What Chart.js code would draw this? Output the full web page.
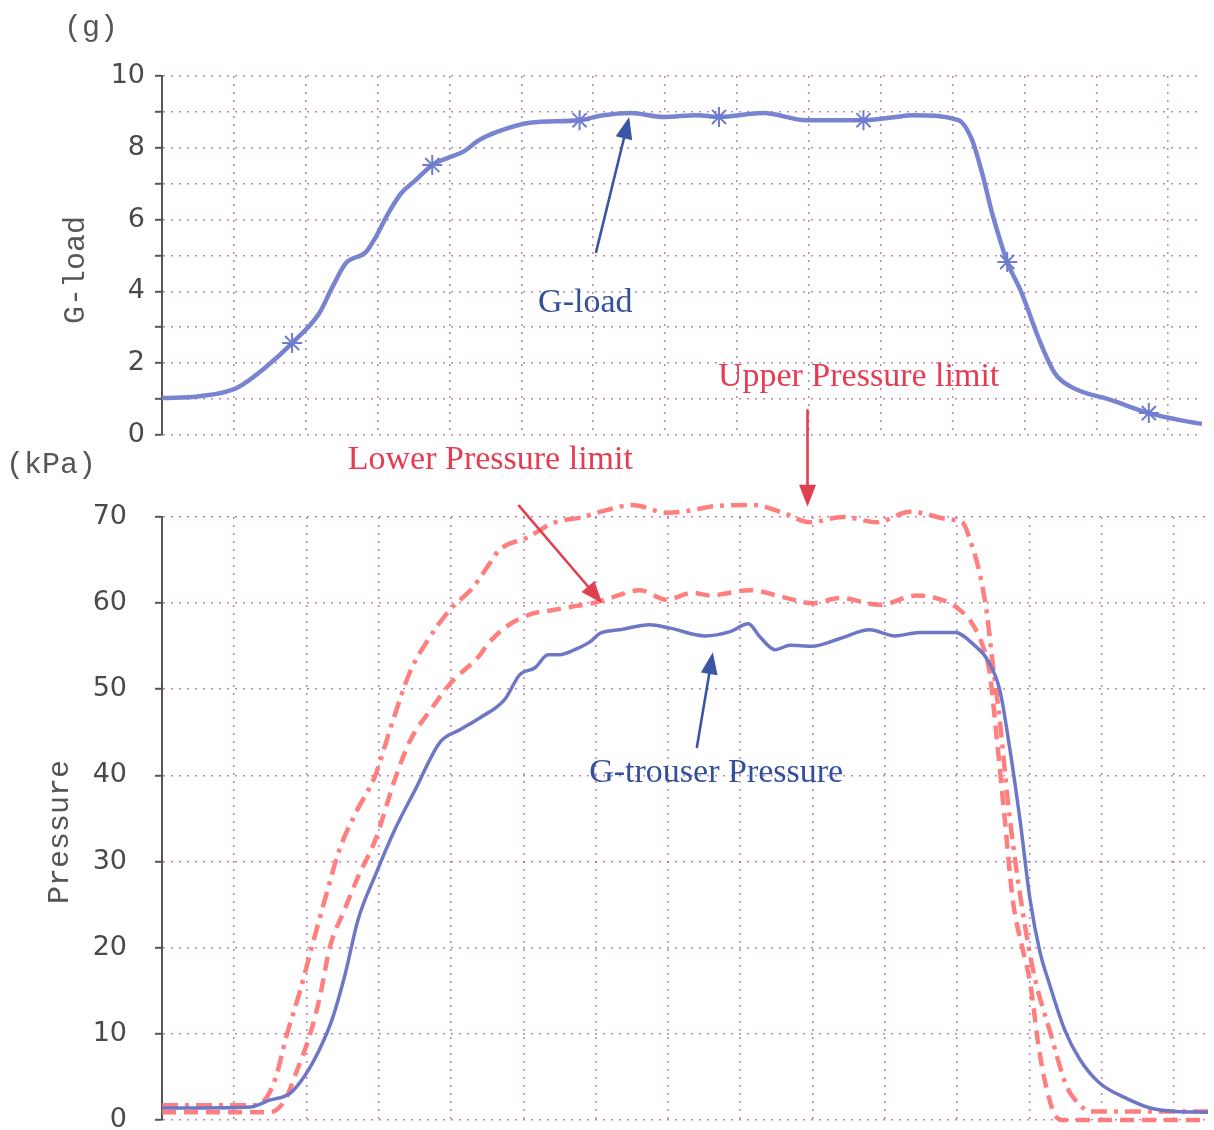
<!DOCTYPE html>
<html>
<head>
<meta charset="utf-8">
<script src="https://cdn.jsdelivr.net/npm/chart.js@4.4.1/dist/chart.umd.min.js"></script>
<style>
  html, body { margin: 0; padding: 0; background: #fff; overflow: hidden; }
  #wrap { position: relative; width: 1214px; height: 1130px; overflow: hidden; background: #fff; }
  canvas { position: absolute; left: 0; }
</style>
</head>
<body>
<div id="wrap">
  <canvas id="gChart" width="1214" height="450" style="top:0"></canvas>
  <canvas id="pChart" width="1214" height="800" style="top:340px"></canvas>
</div>
<script>
// ---- time axis (one grid step per unit) ----
const timeMax = 14.47;

// ---- G-load trace ----
const gTime = [0, 0.53, 1.04, 1.45, 1.81, 2.19, 2.37, 2.56, 2.84, 2.97, 3.15, 3.33, 3.53, 3.76, 3.98, 4.20, 4.40, 4.67, 5.12, 5.81, 6.12, 6.52, 6.98, 7.44, 7.75, 8.37, 8.96, 9.76, 10.21, 10.44, 11.08, 11.27, 11.41, 11.55, 11.69, 11.76, 11.96, 12.19, 12.42, 12.65, 13.21, 13.73, 14.40, 14.47];
const gLoad = [1.03, 1.08, 1.31, 1.90, 2.56, 3.40, 4.12, 4.79, 5.10, 5.50, 6.18, 6.74, 7.10, 7.52, 7.72, 7.90, 8.20, 8.45, 8.70, 8.77, 8.90, 8.97, 8.86, 8.91, 8.86, 8.97, 8.77, 8.77, 8.86, 8.91, 8.77, 8.22, 7.30, 6.18, 5.24, 4.82, 3.96, 2.73, 1.73, 1.34, 0.97, 0.61, 0.33, 0.31];
// sample instants marked with an asterisk
const gMarkTimes = [1.81, 3.76, 5.81, 7.75, 9.76, 11.76, 13.73];

// ---- G-trouser pressure (kPa) ----
const suitTime = [0, 0.53, 1.22, 1.49, 1.77, 1.98, 2.19, 2.35, 2.53, 2.71, 2.95, 3.22, 3.50, 3.85, 4.12, 4.40, 4.74, 4.95, 5.16, 5.34, 5.50, 5.71, 5.92, 6.06, 6.33, 6.75, 7.03, 7.51, 7.86, 8.11, 8.27, 8.48, 8.69, 8.99, 9.38, 9.79, 10.14, 10.48, 10.97, 11.24, 11.42, 11.59, 11.73, 11.87, 12.01, 12.14, 12.28, 12.49, 12.70, 12.97, 13.32, 13.67, 14.01, 14.47];
const suitPressure = [1.4, 1.4, 1.5, 2.3, 3.1, 5.2, 8.4, 11.6, 16.8, 23.2, 28.4, 33.7, 38.3, 43.9, 45.3, 46.7, 48.8, 51.7, 52.5, 54.0, 54.0, 54.6, 55.5, 56.5, 56.9, 57.5, 57.1, 56.2, 56.7, 57.6, 56.1, 54.6, 55.1, 55.0, 55.9, 56.9, 56.2, 56.6, 56.6, 55.1, 53.4, 49.9, 43.0, 34.8, 25.5, 19.7, 15.7, 10.4, 7.0, 4.3, 2.6, 1.4, 1.0, 0.9];

// ---- Upper pressure limit (kPa) ----
const upperTime = [0, 1.22, 1.38, 1.56, 1.73, 1.91, 2.07, 2.25, 2.46, 2.67, 2.95, 3.18, 3.43, 3.67, 3.98, 4.30, 4.50, 4.67, 5.05, 5.41, 5.82, 6.15, 6.51, 6.98, 7.34, 7.58, 8.17, 8.59, 8.96, 9.42, 9.89, 10.35, 10.90, 11.08, 11.18, 11.31, 11.41, 11.49, 11.59, 11.70, 11.84, 12.05, 12.28, 12.52, 12.67, 12.84, 14.47];
const upperLimit = [1.7, 1.7, 2.0, 4.6, 10.0, 15.0, 20.0, 25.5, 31.5, 35.5, 40.0, 46.0, 52.0, 55.6, 59.2, 61.8, 64.2, 66.2, 67.6, 69.3, 70.0, 70.8, 71.4, 70.5, 70.8, 71.2, 71.4, 70.5, 69.4, 70.0, 69.4, 70.6, 69.7, 69.3, 67.3, 63.5, 58.9, 53.1, 46.4, 37.1, 27.9, 17.4, 10.4, 3.8, 2.0, 1.0, 1.0];

// ---- Lower pressure limit (kPa) ----
const lowerTime = [0, 1.49, 1.70, 1.87, 2.05, 2.19, 2.32, 2.53, 2.71, 2.95, 3.22, 3.43, 3.75, 3.98, 4.40, 4.50, 4.77, 5.13, 5.41, 5.68, 5.96, 6.24, 6.61, 6.98, 7.34, 7.58, 8.13, 8.59, 9.00, 9.38, 9.93, 10.44, 10.90, 11.08, 11.18, 11.36, 11.45, 11.55, 11.66, 11.77, 11.91, 12.01, 12.14, 12.32, 12.45, 14.47];
const lowerLimit = [0.9, 0.9, 2.3, 5.8, 10.0, 14.5, 20.0, 24.5, 28.2, 32.5, 39.5, 44.0, 48.0, 50.6, 54.0, 55.2, 57.3, 58.8, 59.2, 59.6, 60.0, 60.7, 61.5, 60.4, 61.2, 60.9, 61.5, 60.7, 60.0, 60.6, 59.8, 60.9, 60.0, 58.9, 58.0, 54.9, 51.9, 44.1, 34.8, 25.5, 19.7, 15.9, 7.8, 1.2, 0, 0];

// ---- axis ticks ----
const gTicks = [0, 2, 4, 6, 8, 10];
const pTicks = [0, 10, 20, 30, 40, 50, 60, 70];

// ---- callouts (data coordinates of each panel) ----
const gCallouts = [
  { text: 'G-load', at: [5.89, 3.43], align: 'center', color: '#34509c',
    from: [6.04, 5.10], to: [6.50, 8.86], arrowColor: '#3a55a5' }
];
const pCallouts = [
  { text: 'Upper Pressure limit', at: [7.69, 85.2], align: 'left', color: '#e63c52',
    from: [8.93, 82.4], to: [8.93, 71.2], arrowColor: '#e0404f' },
  { text: 'Lower Pressure limit', at: [2.57, 75.6], align: 'left', color: '#e63c52',
    from: [4.94, 71.3], to: [6.09, 60.0], arrowColor: '#e0404f' },
  { text: 'G-trouser Pressure', at: [5.91, 39.2], align: 'left', color: '#34509c',
    from: [7.40, 43.3], to: [7.62, 54.3], arrowColor: '#3a55a5' }
];

const pts = (xs, ys) => xs.map((x, i) => ({ x, y: ys[i] }));
const gMarks = gMarkTimes.map(t => ({ x: t, y: gLoad[gTime.indexOf(t)] }));

const GRID = 'rgba(170,105,160,0.8)';
const AXIS = '#555';
const MONO = '"Liberation Mono", "DejaVu Sans Mono", monospace';

// callouts, unit labels and rotated axis titles
const notesPlugin = {
  id: 'notes',
  afterDatasetsDraw(chart, args, opts) {
    const { ctx, scales: { x, y } } = chart;
    ctx.save();
    (opts.callouts || []).forEach(c => {
      const x1 = x.getPixelForValue(c.from[0]), y1 = y.getPixelForValue(c.from[1]);
      const x2 = x.getPixelForValue(c.to[0]), y2 = y.getPixelForValue(c.to[1]);
      const a = Math.atan2(y2 - y1, x2 - x1), ca = Math.cos(a), sa = Math.sin(a);
      const len = 22, half = 8.5;
      ctx.strokeStyle = c.arrowColor; ctx.fillStyle = c.arrowColor;
      ctx.lineWidth = 2.6; ctx.lineCap = 'round';
      ctx.beginPath(); ctx.moveTo(x1, y1); ctx.lineTo(x2 - len * 0.8 * ca, y2 - len * 0.8 * sa); ctx.stroke();
      ctx.beginPath();
      ctx.moveTo(x2, y2);
      ctx.lineTo(x2 - len * ca + half * sa, y2 - len * sa - half * ca);
      ctx.lineTo(x2 - len * ca - half * sa, y2 - len * sa + half * ca);
      ctx.closePath(); ctx.fill();
      ctx.font = '34px "Liberation Serif", "Times New Roman", serif';
      ctx.fillStyle = c.color; ctx.textAlign = c.align; ctx.textBaseline = 'alphabetic';
      ctx.fillText(c.text, x.getPixelForValue(c.at[0]), y.getPixelForValue(c.at[1]));
    });
    ctx.fillStyle = AXIS; ctx.font = '30px ' + MONO;
    if (opts.unit) {
      ctx.textAlign = 'left'; ctx.textBaseline = 'middle';
      ctx.fillText(opts.unit.text, opts.unit.x, opts.unit.y);
    }
    if (opts.title) {
      ctx.save();
      ctx.translate(opts.title.x, opts.title.y);
      ctx.rotate(-Math.PI / 2);
      ctx.textAlign = 'center'; ctx.textBaseline = 'middle';
      ctx.fillText(opts.title.text, 0, 0);
      ctx.restore();
    }
    ctx.restore();
  }
};

function xScale() {
  return {
    type: 'linear', min: 0, max: timeMax,
    ticks: { display: false, stepSize: 1, includeBounds: false },
    grid: { color: GRID, lineWidth: 1.6, drawTicks: false },
    border: { display: false, dash: [2, 6] },
    afterFit(s) { s.height = 0; s.paddingLeft = 0; s.paddingRight = 0; }
  };
}
function yScale(max, step, shown, pad) {
  return {
    type: 'linear', min: 0, max,
    ticks: {
      stepSize: step, padding: pad, color: '#4a4a4a',
      font: { family: '"DejaVu Sans", sans-serif', size: 27, lineHeight: 1 },
      callback: v => (shown.includes(v) ? String(v) : '')
    },
    grid: { color: GRID, lineWidth: 1.6, tickLength: 7,
            tickColor: AXIS, tickWidth: 2, tickBorderDash: [] },
    border: { display: true, color: AXIS, width: 2, dash: [2, 6] },
    afterFit(s) { s.width = 162; s.paddingTop = 0; s.paddingBottom = 0; }
  };
}

const common = {
  responsive: false, maintainAspectRatio: false, animation: false,
  events: [],
  elements: { point: { radius: 0 }, line: { cubicInterpolationMode: 'monotone', borderCapStyle: 'butt' } },
};

new Chart(document.getElementById('gChart'), {
  type: 'line',
  data: {
    datasets: [
      { label: 'G-load markers', data: gMarks, showLine: false, pointStyle: 'star',
        pointRadius: 10, pointBorderWidth: 2, borderColor: '#6f7bcc', backgroundColor: '#6f7bcc' },
      { label: 'G-load', data: pts(gTime, gLoad), borderColor: '#7884cf', borderWidth: 4.5 }
    ]
  },
  options: Object.assign({}, common, {
    layout: { padding: { left: 0, right: 6, top: 76, bottom: 15 } },
    scales: { x: xScale(), y: yScale(10, 1, gTicks, 10) },
    plugins: {
      legend: { display: false }, tooltip: { enabled: false },
      notes: { callouts: gCallouts, unit: { text: '(g)', x: 64, y: 28 },
               title: { text: 'G-load', x: 76, y: 270 } }
    }
  }),
  plugins: [notesPlugin]
});

new Chart(document.getElementById('pChart'), {
  type: 'line',
  data: {
    datasets: [
      { label: 'G-trouser Pressure', data: pts(suitTime, suitPressure), borderColor: '#6d77c6', borderWidth: 3.5, clip: false },
      { label: 'Upper Pressure limit', data: pts(upperTime, upperLimit), borderColor: 'rgba(255,112,112,0.9)',
        borderWidth: 4.5, borderDash: [16, 7, 4, 7], clip: false },
      { label: 'Lower Pressure limit', data: pts(lowerTime, lowerLimit), borderColor: 'rgba(255,112,112,0.9)',
        borderWidth: 4.5, borderDash: [14, 8], clip: false }
    ]
  },
  options: Object.assign({}, common, {
    layout: { padding: { left: 0, right: 6, top: 177, bottom: 20 } },
    scales: { x: xScale(), y: yScale(70, 10, pTicks, 28) },
    plugins: {
      legend: { display: false }, tooltip: { enabled: false },
      notes: { callouts: pCallouts, unit: { text: '(kPa)', x: 6, y: 125 },
               title: { text: 'Pressure', x: 60, y: 492 } }
    }
  }),
  plugins: [notesPlugin]
});
</script>
</body>
</html>
